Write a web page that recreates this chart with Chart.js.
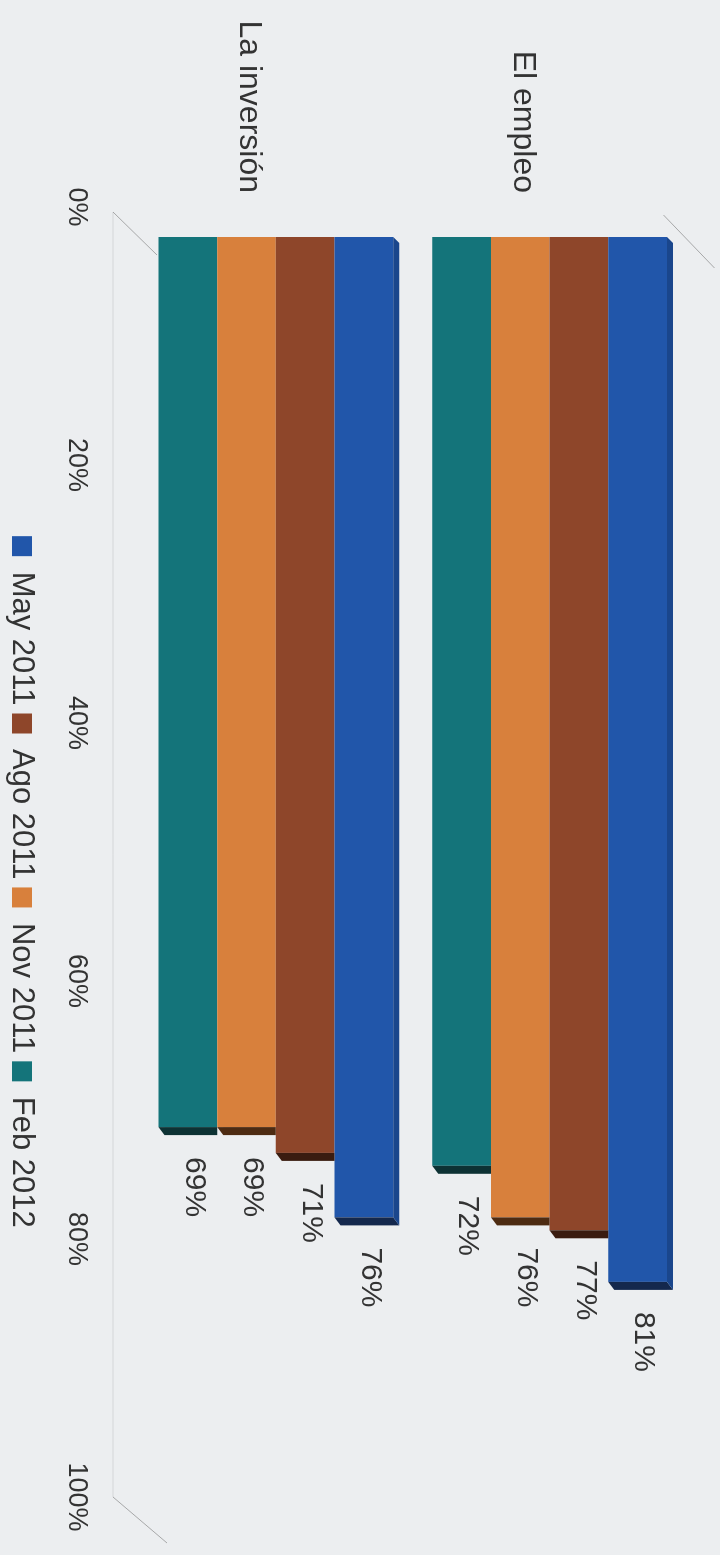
<!DOCTYPE html>
<html>
<head>
<meta charset="utf-8">
<script src="https://cdn.jsdelivr.net/npm/chart.js@4.4.1/dist/chart.umd.min.js"></script>
<style>
  html, body { margin: 0; padding: 0; width: 720px; height: 1555px; overflow: hidden; background: #eceef0; }
  /* the chart is drawn landscape and turned a quarter clockwise */
  #wrap { position: absolute; left: 0; top: 0; width: 1555px; height: 720px;
          transform-origin: 0 0; transform: translate(720px, 0) rotate(90deg); }
</style>
</head>
<body>
<div id="wrap"><canvas id="encuesta" width="1555" height="720"></canvas></div>
<script>
const categories = ["El empleo", "La inversión"];
const seriesNames = ["May 2011", "Ago 2011", "Nov 2011", "Feb 2012"];
const may2011 = [81, 76];
const ago2011 = [77, 71];
const nov2011 = [76, 69];
const feb2012 = [72, 69];
const percentTicks = [0, 20, 40, 60, 80, 100];

const fontFamily = "'Liberation Sans', Arial, sans-serif";
const textColor = "#333333";
const fillColors = ["#2156aa", "#8e462a", "#d8803c", "#14747a"];
const endColors = ["#14284d", "#3a1c10", "#4d2b12", "#0d3234"];
const sideColor = "#1a468c";

// fake 3D: dark end faces, top face of the first bar, faint box edges
const depthBars = {
  id: "depthBars",
  beforeDatasetsDraw(chart) {
    const ctx = chart.ctx;
    const xs = chart.scales.x;
    const area = chart.chartArea;
    const x0 = xs.getPixelForValue(0);
    const x100 = xs.getPixelForValue(100);
    ctx.save();
    ctx.strokeStyle = "rgba(110,110,110,0.55)";
    ctx.lineWidth = 1;
    ctx.beginPath();
    ctx.moveTo(x0 - 25, area.bottom + 26);
    ctx.lineTo(x0 + 18, area.bottom - 18);
    ctx.moveTo(x0 - 22, area.top + 23);
    ctx.lineTo(x0 + 31, area.top - 28);
    ctx.moveTo(x100 - 30, area.bottom + 26);
    ctx.lineTo(x100 + 16, area.bottom - 28);
    ctx.stroke();
    ctx.strokeStyle = "rgba(110,110,110,0.18)";
    ctx.beginPath();
    ctx.moveTo(x0 - 25, area.bottom + 26);
    ctx.lineTo(x100 - 30, area.bottom + 26);
    ctx.stroke();
    ctx.restore();
  },
  afterDatasetsDraw(chart) {
    const ctx = chart.ctx;
    const d = 8, h = 6;
    ctx.save();
    for (let i = chart.data.datasets.length - 1; i >= 0; i--) {
      const meta = chart.getDatasetMeta(i);
      meta.data.forEach((bar) => {
        const p = bar.getProps(["x", "y", "base", "height"], true);
        const top = p.y - p.height / 2;
        const bottom = p.y + p.height / 2;
        ctx.fillStyle = endColors[i];
        ctx.beginPath();
        ctx.moveTo(p.x, bottom);
        ctx.lineTo(p.x, top);
        if (i === 0) {
          ctx.lineTo(p.x + d, top - h);
        } else {
          ctx.lineTo(p.x + d, top);
        }
        ctx.lineTo(p.x + d, bottom - h);
        ctx.closePath();
        ctx.fill();
        if (i === 0) {
          ctx.fillStyle = sideColor;
          ctx.beginPath();
          ctx.moveTo(p.base, top);
          ctx.lineTo(p.base + h, top - h);
          ctx.lineTo(p.x + d, top - h);
          ctx.lineTo(p.x, top);
          ctx.closePath();
          ctx.fill();
        }
      });
    }
    // value labels after each bar
    ctx.fillStyle = textColor;
    ctx.font = "30px " + fontFamily;
    ctx.textAlign = "left";
    ctx.textBaseline = "middle";
    chart.data.datasets.forEach((ds, i) => {
      chart.getDatasetMeta(i).data.forEach((bar, j) => {
        const p = bar.getProps(["x", "y"], true);
        ctx.fillText(ds.data[j] + "%", p.x + 30, p.y - 6);
      });
    });
    ctx.restore();
  }
};

const seriesValues = [may2011, ago2011, nov2011, feb2012];

new Chart(document.getElementById("encuesta"), {
  type: "bar",
  data: {
    labels: categories,
    datasets: seriesNames.map((name, i) => ({
      label: name,
      data: seriesValues[i],
      backgroundColor: fillColors[i],
      borderWidth: 0,
      categoryPercentage: 0.858,
      barPercentage: 1
    }))
  },
  options: {
    indexAxis: "y",
    responsive: false,
    animation: false,
    devicePixelRatio: 1,
    layout: {
      padding: { top: 33.5, right: 28, bottom: -3.5, left: 0 }
    },
    plugins: {
      tooltip: { enabled: false },
      legend: {
        position: "bottom",
        fullSize: false,
        labels: {
          boxWidth: 20,
          boxHeight: 20,
          padding: 8,
          color: textColor,
          font: { family: fontFamily, size: 31 }
        }
      }
    },
    scales: {
      x: {
        min: 0,
        max: 100,
        grid: { display: false },
        border: { display: false },
        afterBuildTicks: (axis) => {
          axis.ticks = percentTicks.map((v) => ({ value: v }));
        },
        afterFit: (s) => {
          s.height = 93.5;
          s.paddingLeft = 0;
          s.paddingRight = 0;
        },
        ticks: {
          padding: 38,
          labelOffset: -30,
          maxRotation: 0,
          color: textColor,
          font: { family: fontFamily, size: 27 },
          callback: (v) => v + "%"
        }
      },
      y: {
        grid: { display: false },
        border: { display: false },
        afterFit: (s) => {
          s.width = 237;
          s.paddingTop = 0;
          s.paddingBottom = 0;
        },
        ticks: {
          padding: 36,
          labelOffset: 27,
          color: textColor,
          font: { family: fontFamily, size: 32 }
        }
      }
    }
  },
  plugins: [depthBars]
});
</script>
</body>
</html>
